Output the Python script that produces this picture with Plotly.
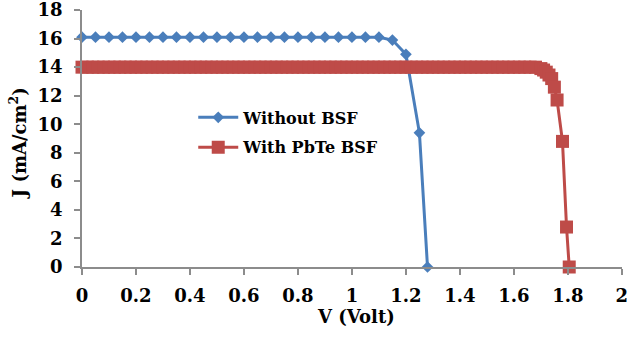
import plotly.graph_objects as go

# Without BSF
v_blue = [0.00, 0.05, 0.10, 0.15, 0.20, 0.25, 0.30, 0.35, 0.40, 0.45, 0.50, 0.55,
          0.60, 0.65, 0.70, 0.75, 0.80, 0.85, 0.90, 0.95, 1.00, 1.05, 1.10,
          1.15, 1.20, 1.25, 1.28]
j_blue = [16.1, 16.1, 16.1, 16.1, 16.1, 16.1, 16.1, 16.1, 16.1, 16.1, 16.1, 16.1,
          16.1, 16.1, 16.1, 16.1, 16.1, 16.1, 16.1, 16.1, 16.1, 16.1, 16.1,
          15.9, 14.9, 9.4, 0.0]

# With PbTe BSF
v_red = [0.00, 0.02, 0.04, 0.06, 0.08, 0.10, 0.12, 0.14, 0.16, 0.18,
         0.20, 0.22, 0.24, 0.26, 0.28, 0.30, 0.32, 0.34, 0.36, 0.38,
         0.40, 0.42, 0.44, 0.46, 0.48, 0.50, 0.52, 0.54, 0.56, 0.58,
         0.60, 0.62, 0.64, 0.66, 0.68, 0.70, 0.72, 0.74, 0.76, 0.78,
         0.80, 0.82, 0.84, 0.86, 0.88, 0.90, 0.92, 0.94, 0.96, 0.98,
         1.00, 1.02, 1.04, 1.06, 1.08, 1.10, 1.12, 1.14, 1.16, 1.18,
         1.20, 1.22, 1.24, 1.26, 1.28, 1.30, 1.32, 1.34, 1.36, 1.38,
         1.40, 1.42, 1.44, 1.46, 1.48, 1.50, 1.52, 1.54, 1.56, 1.58,
         1.60, 1.62, 1.64, 1.66, 1.68, 1.70, 1.71, 1.72, 1.73, 1.74,
         1.75, 1.76, 1.78, 1.795, 1.805]
j_red = [14.0, 14.0, 14.0, 14.0, 14.0, 14.0, 14.0, 14.0, 14.0, 14.0,
         14.0, 14.0, 14.0, 14.0, 14.0, 14.0, 14.0, 14.0, 14.0, 14.0,
         14.0, 14.0, 14.0, 14.0, 14.0, 14.0, 14.0, 14.0, 14.0, 14.0,
         14.0, 14.0, 14.0, 14.0, 14.0, 14.0, 14.0, 14.0, 14.0, 14.0,
         14.0, 14.0, 14.0, 14.0, 14.0, 14.0, 14.0, 14.0, 14.0, 14.0,
         14.0, 14.0, 14.0, 14.0, 14.0, 14.0, 14.0, 14.0, 14.0, 14.0,
         14.0, 14.0, 14.0, 14.0, 14.0, 14.0, 14.0, 14.0, 14.0, 14.0,
         14.0, 14.0, 14.0, 14.0, 14.0, 14.0, 14.0, 14.0, 14.0, 14.0,
         14.0, 14.0, 14.0, 14.0, 14.0, 13.9, 13.8, 13.65, 13.45, 13.2,
         12.6, 11.7, 8.8, 2.8, 0.0]

x_ticks = [0, 0.2, 0.4, 0.6, 0.8, 1, 1.2, 1.4, 1.6, 1.8, 2]
x_tick_labels = ["0", "0.2", "0.4", "0.6", "0.8", "1", "1.2", "1.4", "1.6", "1.8", "2"]
y_ticks = [0, 2, 4, 6, 8, 10, 12, 14, 16, 18]

FONT = "DejaVu Serif"

fig = go.Figure()
fig.add_trace(go.Scatter(
    x=v_blue, y=j_blue, mode="lines+markers", name="Without BSF",
    legendgroup="a",
    line=dict(color="#4A7EBB", width=3),
    marker=dict(symbol="diamond", size=9, color="#4A7EBB"),
    cliponaxis=False,
))
fig.add_trace(go.Scatter(
    x=v_red, y=j_red, mode="lines+markers", name="With PbTe BSF",
    legendgroup="b",
    line=dict(color="#BE4B48", width=3),
    marker=dict(symbol="square", size=13, color="#BE4B48"),
    cliponaxis=False,
))

axis_font = dict(family=FONT, size=18, color="black", weight="bold")

fig.update_layout(
    width=627, height=338,
    margin=dict(l=82, r=5, t=10, b=71),
    paper_bgcolor="white", plot_bgcolor="white",
    showlegend=True,
    legend=dict(
        x=0.206, y=0.648, xanchor="left", yanchor="top",
        bgcolor="rgba(255,255,255,0)",
        font=dict(family=FONT, size=16, color="black", weight="bold"),
        tracegroupgap=6, itemwidth=40,
    ),
    xaxis=dict(
        range=[0, 2.0005], tickvals=x_ticks, ticktext=x_tick_labels,
        automargin=False, ticklabeloverflow="allow",
        showgrid=False, zeroline=False,
        showline=True, linecolor="#8C8C8C", linewidth=1.5,
        ticks="outside", ticklen=6, tickcolor="#8C8C8C", tickwidth=1.5,
        tickfont=axis_font, ticklabelstandoff=6,
    ),
    yaxis=dict(
        range=[0, 18.005], tickvals=y_ticks,
        automargin=False, ticklabeloverflow="allow",
        showgrid=False, zeroline=False,
        showline=True, linecolor="#8C8C8C", linewidth=1.5,
        ticks="outside", ticklen=6, tickcolor="#8C8C8C", tickwidth=1.5,
        tickfont=axis_font, ticklabelstandoff=8,
    ),
    annotations=[
        dict(text="V (Volt)", xref="paper", yref="paper", x=0.507, y=-0.193,
             xanchor="center", yanchor="middle", showarrow=False, font=axis_font),
        dict(text="J (mA/cm<sup>2</sup>)", xref="paper", yref="paper",
             x=-0.119, y=0.48, xanchor="center", yanchor="middle",
             textangle=-90, showarrow=False, font=axis_font),
    ],
)

fig.write_html("out.html", config={"displayModeBar": False},
               post_script="document.body.style.margin='0px';")
